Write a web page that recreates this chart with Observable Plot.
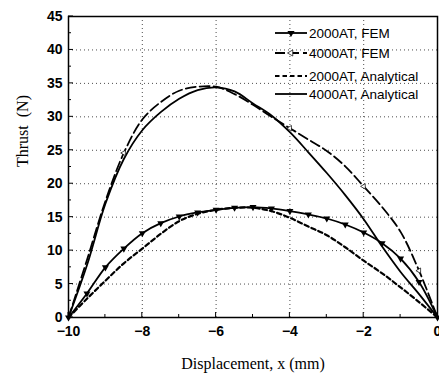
<!DOCTYPE html>
<html>
<head>
<meta charset="utf-8">
<script src="https://cdn.jsdelivr.net/npm/d3@7"></script>
<script src="https://cdn.jsdelivr.net/npm/@observablehq/plot@0.6"></script>
<style>
  html, body { margin: 0; padding: 0; background: #fff; }
  #chart { width: 439px; height: 376px; }
</style>
</head>
<body>
<div id="chart"></div>
<script>
// Displacement (mm)
const xs = [-10, -9.5, -9, -8.5, -8, -7.5, -7, -6.5, -6, -5.5, -5, -4.5, -4, -3.5, -3, -2.5, -2, -1.5, -1, -0.5, 0];
// Thrust (N)
const fem2000 = [0, 3.6, 7.5, 10.3, 12.6, 14.1, 15.1, 15.7, 16.1, 16.4, 16.5, 16.3, 15.9, 15.4, 14.8, 13.9, 12.7, 11.1, 8.8, 5.3, 0];
const fem4000 = [0, 8.6, 17.4, 24.6, 29.6, 32.2, 33.9, 34.5, 34.5, 33.4, 31.8, 30.0, 28.3, 26.6, 24.9, 22.6, 19.6, 16.5, 12.8, 7.0, 0];
const ana2000 = [0, 2.8, 5.5, 8.1, 10.3, 12.5, 14.4, 15.5, 16.1, 16.4, 16.4, 15.9, 14.9, 13.6, 12.3, 10.5, 8.5, 6.6, 4.5, 2.3, 0];
const ana4000 = [0, 7.8, 17.0, 23.7, 28.0, 30.7, 32.7, 34.0, 34.4, 33.8, 32.0, 30.2, 27.7, 24.7, 21.6, 18.3, 14.7, 10.6, 6.8, 3.5, 0];

const seriesNames = ["2000AT, FEM", "4000AT, FEM", "2000AT, Analytical", "4000AT, Analytical"];
const xTicks = [-10, -8, -6, -4, -2, 0];
const yTicks = [0, 5, 10, 15, 20, 25, 30, 35, 40, 45];
const xMinor = [-9, -7, -5, -3, -1];
const yMinor = [2.5, 7.5, 12.5, 17.5, 22.5, 27.5, 32.5, 37.5, 42.5];
const fem4000MarkerX = [-8.5, -4, -2, -0.5];

const rows = (ys) => xs.map((x, i) => ({x, y: ys[i]}));
const r2000 = rows(fem2000), r4000 = rows(fem4000), a2000 = rows(ana2000), a4000 = rows(ana4000);
const m4000 = r4000.filter(d => fem4000MarkerX.includes(d.x));

const sans = "Liberation Sans, Arial, sans-serif";
const serif = "Liberation Serif, Times New Roman, serif";

const plot = Plot.plot({
  width: 439,
  height: 376,
  marginLeft: 68,
  marginRight: 2,
  marginTop: 16,
  marginBottom: 59,
  style: {fontFamily: sans, fontSize: "14px", fontWeight: "bold", color: "black", background: "white"},
  x: {domain: [-10, 0]},
  y: {domain: [0, 45]},
  marks: [
    Plot.gridX([-8, -6, -4, -2], {stroke: "black", strokeOpacity: 0.7, strokeDasharray: "1,3"}),
    Plot.gridY([5, 10, 15, 20, 25, 30, 35, 40], {stroke: "black", strokeOpacity: 0.7, strokeDasharray: "1,3"}),
    Plot.line(a2000, {x: "x", y: "y", stroke: "black", strokeWidth: 2.2, strokeDasharray: "4.5,3", curve: "catmull-rom"}),
    Plot.line(a4000, {x: "x", y: "y", stroke: "black", strokeWidth: 1.8, curve: "catmull-rom"}),
    Plot.line(r4000, {x: "x", y: "y", stroke: "black", strokeWidth: 1.8, strokeDasharray: "10,4", curve: "catmull-rom"}),
    Plot.line(r2000, {x: "x", y: "y", stroke: "black", strokeWidth: 1.8, curve: "catmull-rom"}),
    Plot.dot(r2000, {x: "x", y: "y", symbol: "triangle", rotate: 180, r: 2.6, fill: "black"}),
    Plot.dot(m4000, {x: "x", y: "y", symbol: "triangle", rotate: -90, r: 2, fill: "white", stroke: "black", strokeWidth: 0.7}),
    Plot.axisX({ticks: xTicks, tickSize: 0, tickPadding: 9, label: null, fontSize: 14, fontWeight: "bold", fontFamily: sans}),
    Plot.axisY({ticks: yTicks, tickSize: 0, tickPadding: 6, label: null, fontSize: 14, fontWeight: "bold", fontFamily: sans}),
    Plot.frame({stroke: "black", strokeWidth: 1.5}),
    Plot.text(["Displacement, x (mm)"], {frameAnchor: "bottom", dy: 51, fontFamily: serif, fontSize: 16, fontWeight: "normal", fill: "black"}),
    Plot.text(["Thrust  (N)"], {frameAnchor: "left", dx: -46, rotate: -90, fontFamily: serif, fontSize: 16, fontWeight: "normal", fill: "black"})
  ]
});

document.getElementById("chart").appendChild(plot);

// inward ticks and legend drawn with the plot's own scales
const sx = plot.scale("x"), sy = plot.scale("y");
const svg = d3.select(plot);
const gT = svg.append("g").attr("stroke", "black").attr("stroke-width", 1);
const y0 = sy.apply(0), x0 = sx.apply(-10);
xTicks.forEach(v => gT.append("line").attr("x1", sx.apply(v)).attr("x2", sx.apply(v)).attr("y1", y0).attr("y2", y0 - 5));
xMinor.forEach(v => gT.append("line").attr("x1", sx.apply(v)).attr("x2", sx.apply(v)).attr("y1", y0).attr("y2", y0 - 3));
yTicks.forEach(v => gT.append("line").attr("y1", sy.apply(v)).attr("y2", sy.apply(v)).attr("x1", x0).attr("x2", x0 + 5));
yMinor.forEach(v => gT.append("line").attr("y1", sy.apply(v)).attr("y2", sy.apply(v)).attr("x1", x0).attr("x2", x0 + 3));

const legendY = [33, 53, 76, 94];
const lx1 = 275, lx2 = 307, tx = 309;
const dashes = [null, "10,4", "4.5,3", null];
const lg = svg.append("g");
seriesNames.forEach((name, i) => {
  const y = legendY[i];
  lg.append("line").attr("x1", lx1).attr("x2", lx2).attr("y1", y).attr("y2", y)
    .attr("stroke", "black").attr("stroke-width", i === 2 ? 2.2 : 1.8)
    .attr("stroke-dasharray", dashes[i]);
  if (i === 0) {
    lg.append("path").attr("d", d3.symbol(d3.symbolTriangle, 22)())
      .attr("transform", `translate(${(lx1 + lx2) / 2},${y}) rotate(180)`).attr("fill", "black");
  }
  if (i === 1) {
    lg.append("path").attr("d", d3.symbol(d3.symbolTriangle, 16)())
      .attr("transform", `translate(${(lx1 + lx2) / 2},${y}) rotate(-90)`).attr("fill", "white")
      .attr("stroke", "black").attr("stroke-width", 0.7);
  }
  lg.append("text").attr("x", tx).attr("y", y).attr("dy", "0.35em")
    .attr("text-anchor", "start")
    .attr("font-family", sans).attr("font-size", 13.5).attr("font-weight", "normal")
    .attr("fill", "black").text(name);
});
</script>
</body>
</html>
